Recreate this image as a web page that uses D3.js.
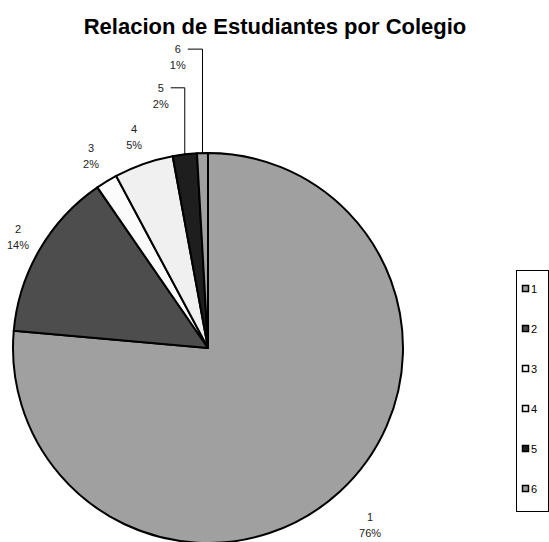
<!DOCTYPE html>
<html>
<head>
<meta charset="utf-8">
<script src="https://cdn.jsdelivr.net/npm/d3@7"></script>
<style>
  body { margin: 0; background: #fff; }
  text { font-family: "Liberation Sans", Arial, sans-serif; }
</style>
</head>
<body>
<div id="chart"></div>
<script>
//Chart data
var colegios=["1","2","3","4","5","6"];
var estudiantes=[764,140,18,49,20,9];

//Slice colors
var fills=["#a0a0a0","#4d4d4d","#fbfbfb","#f0f0f0","#1e1e1e","#a0a0a0"];

//Dimensions
var w=549;
var h=542;
var cx=208, cy=348, r=195;

//Label placement (radius from center, shift in x for leader labels)
var labelR=[240,220,225,224,254,291];
var labelDx=[0,0,0,0,-17,-22];

var svg=d3.select("#chart")
          .append("svg")
          .attr("width",w)
          .attr("height",h);

//Title
svg.append("text")
   .text("Relacion de Estudiantes por Colegio")
   .attr("x",275)
   .attr("y",34)
   .attr("text-anchor","middle")
   .style("font-weight","bold")
   .style("font-size","22px")
   .attr("fill","#000");

var total=d3.sum(estudiantes);
var data=colegios.map(function(c,i) {return {name:c,value:estudiantes[i],i:i};});

var pie=d3.pie()
          .sort(null)
          .value(function(d) {return d.value;});
var arcs=pie(data);

var arc=d3.arc().innerRadius(0).outerRadius(r);

var g=svg.append("g").attr("transform","translate("+cx+","+cy+")");

g.selectAll("path")
 .data(arcs)
 .enter()
 .append("path")
 .attr("d",arc)
 .attr("fill",function(d) {return fills[d.data.i];})
 .attr("stroke","#000")
 .attr("stroke-width",2)
 .attr("stroke-linejoin","round");

//Polar helper, angle measured clockwise from 12 o'clock
function polar(a,rad) {return [Math.sin(a)*rad,-Math.cos(a)*rad];}

var labels=g.append("g");
arcs.forEach(function(d,i) {
    var mid=(d.startAngle+d.endAngle)/2;
    var p=polar(mid,labelR[i]);
    var lx=p[0]+labelDx[i];
    var ly=p[1];
    var t=labels.append("text")
                .attr("text-anchor","middle")
                .style("font-size","11px")
                .attr("fill","#222");
    t.append("tspan").attr("x",lx).attr("y",ly-8).attr("dominant-baseline","central").text(d.data.name);
    t.append("tspan").attr("x",lx).attr("y",ly+8).attr("dominant-baseline","central")
     .text(Math.round(d.data.value/total*100)+"%");
    //Leader line for crowded labels
    if (labelDx[i]!=0) {
        var e=polar(mid,r);
        labels.append("path")
              .attr("d","M"+e[0]+","+e[1]+"V"+(ly-8)+"H"+(lx+10))
              .attr("fill","none")
              .attr("stroke","#000")
              .attr("stroke-width",1);
    }
});

//Legend
var legend=svg.append("g");
legend.append("rect")
      .attr("x",516.5)
      .attr("y",270.5)
      .attr("width",32)
      .attr("height",241)
      .attr("fill","#fff")
      .attr("stroke","#000");
var ly=d3.scalePoint().domain(colegios).range([289,489]);
colegios.forEach(function(c,i) {
    legend.append("rect")
          .attr("x",522.5)
          .attr("y",ly(c)-3.5)
          .attr("width",6)
          .attr("height",6)
          .attr("fill",fills[i])
          .attr("stroke","#000")
          .attr("stroke-width",1.5);
    legend.append("text")
          .text(c)
          .attr("x",531)
          .attr("y",ly(c))
          .attr("dominant-baseline","central")
          .style("font-size","11px")
          .attr("fill","#000");
});
</script>
</body>
</html>
